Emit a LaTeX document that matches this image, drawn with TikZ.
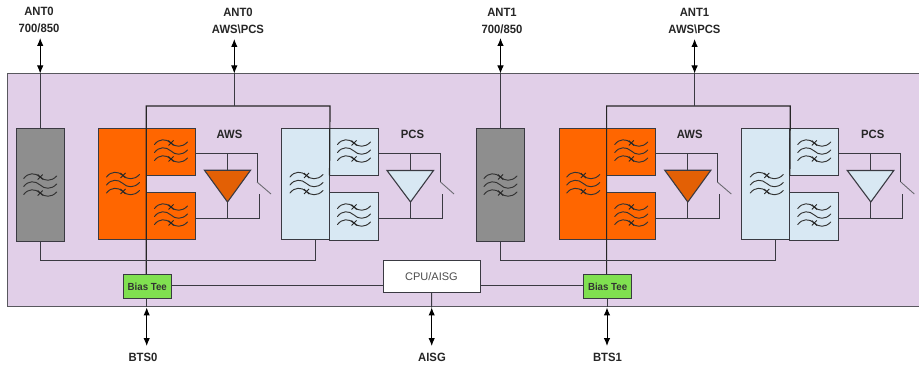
\documentclass[tikz,border=0pt]{standalone}
\usepackage{fontspec}
\setmainfont{Liberation Sans}
\newfontfamily\lablefont[FakeStretch=0.94]{Liberation Sans}
\usetikzlibrary{arrows.meta}
\definecolor{lilac}{HTML}{E1CFE8}
\definecolor{orng}{HTML}{FF6600}
\definecolor{ampo}{HTML}{E36005}
\definecolor{pale}{HTML}{D8E8F3}
\definecolor{grayb}{HTML}{8E8E8E}
\definecolor{grn}{HTML}{80E050}
\definecolor{wire}{HTML}{3A3A42}
\tikzset{
  wirel/.style={draw=wire,line width=1pt},
  busl/.style={draw=black!85,line width=1.2pt},
  dbl/.style={draw=black,line width=1pt,{Latex[length=8pt,width=6.5pt]}-{Latex[length=8pt,width=6.5pt]}},
  blockb/.style={draw=wire,line width=1pt,inner sep=0pt,outer sep=0pt},
  lab/.style={font=\lablefont\fontsize{12}{13}\selectfont\bfseries,text=black!85,inner sep=0pt},
  amp/.style={draw=wire,line width=1.1pt,line join=miter},
  filt/.pic={
    \foreach \d in {-8,0,8}{
      \draw[draw=black!80,line width=0.95pt,line cap=round]
        (-16.5,\d+1.5) .. controls (-12,\d-4.5) and (-5,\d-4.5) .. (0,\d)
        .. controls (4,\d+4) and (11,\d+5) .. (16.5,\d-1);
    }
    \draw[draw=black!85,line width=0.8pt] (-2.5,-10.5)--(2.5,-5.5) (-2.5,-5.5)--(2.5,-10.5);
    \draw[draw=black!85,line width=0.8pt] (-2.5,5.5)--(2.5,10.5) (-2.5,10.5)--(2.5,5.5);
  }
}
\newcommand{\chan}[4]{%
 \begin{scope}[xshift=#1pt,name prefix=#2-]
  % broadband filter
  \node[blockb,fill=grayb,minimum width=48pt,minimum height=113pt] (lb) at (40.2,185.5) {};
  \pic at (40.2,185) {filt};
  % AWS group
  \node[blockb,fill=orng,minimum width=47.5pt,minimum height=111.5pt] (ol) at (122.5,184.2) {};
  \node[blockb,fill=orng,minimum width=49pt,minimum height=47pt] (ou) at (170.5,152) {};
  \node[blockb,fill=orng,minimum width=49pt,minimum height=47.5pt] (od) at (170.5,216.2) {};
  \pic at (123,183.5) {filt};
  \pic at (171,151) {filt};
  \pic at (171,215) {filt};
  \path[amp,fill=#3] (204.5,170.3) -- (250.5,170.3) -- (227.5,202) -- cycle;
  \coordinate (oat) at (227.5,170.3);
  \coordinate (oab) at (227.5,202);
  \coordinate (osu) at (257,154);
  \coordinate (ossw) at (257,182);
  \coordinate (osa) at (271,194);
  \coordinate (osd) at (259,218.5);
  \coordinate (oss) at (259,194);
  \coordinate (ojt) at (227.5,154);
  \coordinate (ojb) at (227.5,218.5);
  \draw[wirel] (ou.east |- osu) -- (osu) -- (ossw);
  \draw[draw=wire!75,line width=0.9pt] (ossw) -- (osa);
  \draw[wirel] (od.east |- osd) -- (osd) -- (oss);
  \draw[wirel] (ojt) -- (oat);
  \draw[wirel] (oab) -- (ojb);
  \node[lab] (awsl) at (229.5,134.5) {AWS};
  % PCS group
  \node[blockb,fill=pale,minimum width=48pt,minimum height=111.5pt] (bl) at (305.5,184.2) {};
  \node[blockb,fill=pale,minimum width=48.5pt,minimum height=47pt] (bu) at (353.8,152) {};
  \node[blockb,fill=pale,minimum width=48.5pt,minimum height=48pt] (bd) at (353.8,216.5) {};
  \pic at (306.5,183.5) {filt};
  \pic at (354,151) {filt};
  \pic at (354,215) {filt};
  \path[amp,fill=#4] (387,170.5) -- (433.5,170.5) -- (410.5,202) -- cycle;
  \coordinate (bat) at (410.5,170.5);
  \coordinate (bab) at (410.5,202);
  \coordinate (bsu) at (440.5,154);
  \coordinate (bssw) at (440.5,182);
  \coordinate (bsa) at (454,194);
  \coordinate (bsd) at (442.5,218.5);
  \coordinate (bss) at (442.5,194);
  \coordinate (bjt) at (410.5,154);
  \coordinate (bjb) at (410.5,218.5);
  \draw[wirel] (bu.east |- bsu) -- (bsu) -- (bssw);
  \draw[draw=wire!75,line width=0.9pt] (bssw) -- (bsa);
  \draw[wirel] (bd.east |- bsd) -- (bsd) -- (bss);
  \draw[wirel] (bjt) -- (bat);
  \draw[wirel] (bab) -- (bjb);
  \node[lab] (pcsl) at (412.5,134.5) {PCS};
  % Bias tee
  \node[blockb,fill=grn,minimum width=47.5pt,minimum height=24pt,font=\lablefont\fontsize{10.3}{11}\selectfont\bfseries,text=black!80] (bt) at (147.3,286.5) {Bias Tee};
  % bus
  \coordinate (busl) at (146.3,106);
  \coordinate (busr) at (330,106);
  \coordinate (busm) at (234.3,106);
  \coordinate (ptb) at (234.3,73.5);
  \coordinate (pta) at (40.2,73.5);
  \coordinate (ptbts) at (146.7,307.5);
  \coordinate (lowl) at (40.2,261);
  \coordinate (lowr) at (315.5,261);
  \draw[busl] (bt.north -| busl) -- (busl) -- (busr) -- (bu.south west);
  \draw[busl] (146.3,128.5) -- (146.3,240);
  \draw[wirel] (ptb) -- (busm);
  \draw[wirel] (pta) -- (lb.north);
  \draw[wirel] (lb.south) -- (lowl) -- (lowr) -- (lowr |- bl.south);
  \draw[wirel] (bt.south -| ptbts) -- (ptbts);
 \end{scope}}
\begin{document}
\begin{tikzpicture}[x=1pt,y=-1pt]
\useasboundingbox (0,0) rectangle (919,366);
\fill[lilac] (7,73.5) rectangle (919,307);
\draw[draw=wire!85,line width=1pt] (919,73.5) -- (7,73.5) -- (7,307) -- (919,307);
\chan{0}{a}{ampo}{pale}
\chan{460.3}{b}{ampo}{pale}
\node[blockb,fill=white,minimum width=97pt,minimum height=32pt,font=\fontsize{11}{12}\selectfont,text=black!70] (cpu) at (431.5,277) {CPU/AISG};
\draw[wirel] (a-bt.east |- 0,285.5) -- (cpu.west |- 0,285.5);
\draw[wirel] (cpu.east |- 0,285.5) -- (b-bt.west |- 0,285.5);
% labels
\node[lab] (t1) at (39,11.5) {ANT0};
\node[lab] (t2) at (39,28) {700/850};
\node[lab] (t3) at (238,12.5) {ANT0};
\node[lab] (t4) at (238,29) {AWS\textbackslash PCS};
\node[lab] (t5) at (502,12.5) {ANT1};
\node[lab] (t6) at (502,29) {700/850};
\node[lab] (t7) at (694.5,12.5) {ANT1};
\node[lab] (t8) at (694.5,29) {AWS\textbackslash PCS};
\node[lab] (t9) at (143,357) {BTS0};
\node[lab] (t10) at (432,357) {AISG};
\node[lab] (t11) at (607.5,357) {BTS1};
\coordinate (ta1) at (40.2,38);
\coordinate (ta2) at (234.3,39);
\coordinate (ta3) at (500.5,38);
\coordinate (ta4) at (694.6,39);
\coordinate (tb1) at (146.7,346);
\coordinate (tb2) at (431.7,346);
\coordinate (tb3) at (607,346);
\coordinate (pcpu) at (431.7,307.5);
\draw[dbl] (ta1) -- (a-pta);
\draw[dbl] (ta2) -- (a-ptb);
\draw[dbl] (ta3) -- (b-pta);
\draw[dbl] (ta4) -- (b-ptb);
\draw[dbl] (a-ptbts) -- (tb1);
\draw[dbl] (b-ptbts) -- (tb3);
\draw[dbl] (pcpu) -- (tb2);
\draw[wirel] (cpu.south) -- (pcpu);
\end{tikzpicture}
\end{document}
